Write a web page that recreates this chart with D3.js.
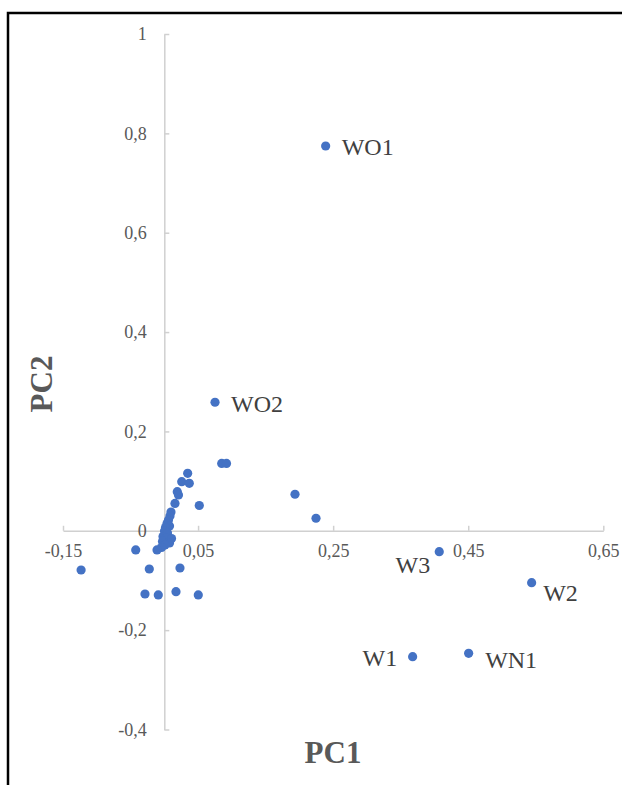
<!DOCTYPE html>
<html>
<head>
<meta charset="utf-8">
<script src="https://cdn.jsdelivr.net/npm/d3@7"></script>
<style>
  html, body { margin: 0; padding: 0; background: #fff; }
  svg { display: block; }
</style>
</head>
<body>
<svg id="chart" width="622" height="785"></svg>
<script>
// ---- data ----
const pointNames = ["WO1","WO2","W3","W2","W1","WN1",
  "","","","","","","","","","","","","","","","",
  "","","","","","","","","","","","","","","","","","",""];
const pc1 = [0.2389, 0.0751, 0.4071, 0.5439, 0.3677, 0.4506,
  0.0099, 0.0084, 0.0062, 0.0040, 0.0077, 0.0018, 0.0003, 0.0047, -0.0019, 0.0033, 0.0107, -0.0027, 0.0077, 0.0010, -0.0041, -0.0108,
  -0.0423, -0.0222, 0.0232, -0.0286, -0.0089, 0.0173, 0.0503, -0.1232,
  0.0158, 0.0518, 0.0192, 0.0210, 0.0258, 0.0370, 0.0346, 0.0850, 0.0921, 0.1935, 0.2246];
const pc2 = [0.7746, 0.2587, -0.0421, -0.1045, -0.2534, -0.2466,
  0.0378, 0.0298, 0.0217, 0.0147, 0.0097, 0.0066, -0.0004, -0.0044, -0.0115, -0.0145, -0.0155, -0.0215, -0.0246, -0.0286, -0.0336, -0.0386,
  -0.0386, -0.0769, -0.0749, -0.1272, -0.1292, -0.1226, -0.1292, -0.0789,
  0.0550, 0.0509, 0.0787, 0.0721, 0.0988, 0.0956, 0.1157, 0.1355, 0.1355, 0.0735, 0.0252];
const xTickValues = [-0.15, 0.05, 0.25, 0.45, 0.65];
const xTickLabels = ["-0,15", "0,05", "0,25", "0,45", "0,65"];
const yTickValues = [-0.4, -0.2, 0, 0.2, 0.4, 0.6, 0.8, 1];
const yTickLabels = ["-0,4", "-0,2", "0", "0,2", "0,4", "0,6", "0,8", "1"];
const xTitle = "PC1";
const yTitle = "PC2";

// ---- layout / style (not data) ----
const labelPlacement = {
  "WO1": {dx: 16, dy: 1, anchor: "start"},
  "WO2": {dx: 16, dy: 1.5, anchor: "start"},
  "W3":  {dx: -9, dy: 13.5, anchor: "end"},
  "W2":  {dx: 11.5, dy: 10.5, anchor: "start"},
  "W1":  {dx: -15.5, dy: 1.5, anchor: "end"},
  "WN1": {dx: 16.5, dy: 7, anchor: "start"}
};
const serif = "'Liberation Serif', 'Times New Roman', serif";
const axisColor = "#d0d0d0";
const tickTextColor = "#595959";
const dotColor = "#4472C4";

const svg = d3.select("#chart");

// frame
svg.append("path")
  .attr("d", "M8,790 V13 H630")
  .attr("fill", "none")
  .attr("stroke", "#000")
  .attr("stroke-width", 2.5);

const x = d3.scaleLinear().domain([-0.15, 0.65]).range([63, 603.3]);
const y = d3.scaleLinear().domain([-0.4, 1]).range([729.5, 34]);

// x axis at y=0
const xAxis = d3.axisBottom(x)
  .tickValues(xTickValues)
  .tickFormat((d, i) => xTickLabels[i])
  .tickSizeInner(-5)
  .tickSizeOuter(0)
  .tickPadding(13.5);
const gx = svg.append("g")
  .attr("transform", `translate(0,${y(0)})`)
  .call(xAxis);

// y axis at x=0
const yAxis = d3.axisLeft(y)
  .tickValues(yTickValues)
  .tickFormat((d, i) => yTickLabels[i])
  .tickSizeInner(-5)
  .tickSizeOuter(0)
  .tickPadding(17.5);
const gy = svg.append("g")
  .attr("transform", `translate(${x(0)},0)`)
  .call(yAxis);

[gx, gy].forEach(g => {
  g.select(".domain").attr("stroke", axisColor).attr("stroke-width", 1.5);
  g.selectAll(".tick line").attr("stroke", axisColor).attr("stroke-width", 1.5);
  g.selectAll(".tick text")
    .attr("fill", tickTextColor)
    .style("font-family", serif)
    .style("font-size", "18px");
});

// points
const pts = pc1.map((v, i) => ({x: v, y: pc2[i], name: pointNames[i]}));
svg.append("g").selectAll("circle")
  .data(pts)
  .join("circle")
  .attr("cx", d => x(d.x))
  .attr("cy", d => y(d.y))
  .attr("r", 4.6)
  .attr("fill", dotColor);

// point labels
svg.append("g").selectAll("text")
  .data(pts.filter(d => d.name))
  .join("text")
  .attr("x", d => x(d.x) + labelPlacement[d.name].dx)
  .attr("y", d => y(d.y) + labelPlacement[d.name].dy)
  .attr("dy", "0.34em")
  .attr("text-anchor", d => labelPlacement[d.name].anchor)
  .attr("fill", "#404040")
  .style("font-family", serif)
  .style("font-size", "24px")
  .text(d => d.name);

// axis titles
svg.append("text")
  .attr("x", 333)
  .attr("y", 763)
  .attr("text-anchor", "middle")
  .attr("fill", "#595959")
  .style("font-family", serif)
  .style("font-weight", "bold")
  .style("font-size", "31px")
  .text(xTitle);

svg.append("text")
  .attr("transform", "translate(52,384) rotate(-90)")
  .attr("text-anchor", "middle")
  .attr("fill", "#595959")
  .style("font-family", serif)
  .style("font-weight", "bold")
  .style("font-size", "31px")
  .text(yTitle);
</script>
</body>
</html>
